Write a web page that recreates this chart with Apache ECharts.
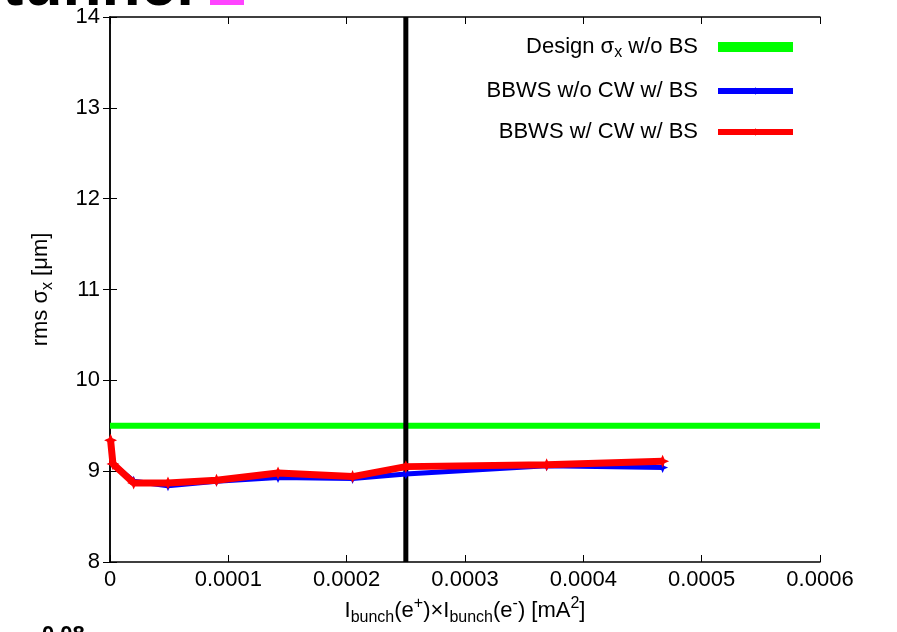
<!DOCTYPE html>
<html><head><meta charset="utf-8">
<script src="https://cdn.jsdelivr.net/npm/echarts@6/dist/echarts.min.js"></script>
<style>html,body{margin:0;padding:0;background:#fff}#c{width:897px;height:632px}</style>
</head><body><div id="c"></div>
<script>
const xTicks = [0, 0.0001, 0.0002, 0.0003, 0.0004, 0.0005, 0.0006];
const yTicks = [8, 9, 10, 11, 12, 13, 14];
const xProd = [0.0000005, 0.0000025, 0.00002, 0.000049, 0.00009, 0.000142, 0.000205, 0.00025, 0.000369, 0.000467];
const sigmaNoCW = [9.34, 9.08, 8.89, 8.84, 8.89, 8.93, 8.92, 8.97, 9.06, 9.04];
const sigmaCW   = [9.34, 9.08, 8.87, 8.87, 8.90, 8.98, 8.94, 9.05, 9.07, 9.11];
const designSigma = 9.5;
const designX = [0, 0.0006];
const markerX = 0.00025;
const markerY = [8, 14];
const names = ['Design σx w/o BS', 'BBWS w/o CW w/ BS', 'BBWS w/ CW w/ BS'];

const chart = echarts.init(document.getElementById('c'));
const font = 'Liberation Sans, Helvetica, Arial, sans-serif';
const pair = (xs, ys) => xs.map((x, i) => [x, ys[i]]);
const sym = 'path://M0,-1L0.3,-0.3L1,0L0.3,0.3L0,1L-0.3,0.3L-1,0L-0.3,-0.3Z';
chart.setOption({
  animation: false,
  backgroundColor: '#fff',
  grid: { left: 110, right: 77, top: 17, bottom: 70 },
  legend: {
    right: 96, top: 31, orient: 'vertical', align: 'right', itemGap: 19,
    itemWidth: 75, itemHeight: 10,
    data: [
      { name: names[0], icon: 'rect', itemStyle: { color: '#00ff00' } },
      { name: names[1] },
      { name: names[2] }
    ],
    lineStyle: { width: 6 },
    formatter: n => {
      if (n.indexOf('Design') === 0) return 'Design σ{sub|x} w/o BS';
      return n;
    },
    textStyle: { fontFamily: font, fontSize: 22, color: '#000', padding: [0, 15, 0, 0],
      rich: { sub: { fontFamily: font, fontSize: 16, verticalAlign: 'bottom', padding: [12, 0, 0, 0], color: '#000' } } }
  },
  xAxis: [{
    type: 'value', min: 0, max: 0.0006, interval: 0.0001,
    axisLine: { onZero: false, lineStyle: { color: '#000', width: 1.5 } },
    axisTick: { inside: true, length: 7, lineStyle: { color: '#000' } },
    splitLine: { show: false },
    axisLabel: { fontFamily: font, fontSize: 22, color: '#000', margin: 7,
      formatter: v => { const i = xTicks.findIndex(t => Math.abs(t - v) < 1e-9); return i >= 0 ? String(xTicks[i]) : ''; } },
    name: 'I{sub|bunch}(e{sup|+})×I{sub|bunch}(e{sup|-}) [mA{sup|2}]',
    nameLocation: 'middle', nameGap: 34,
    nameTextStyle: { fontFamily: font, fontSize: 22, color: '#000',
      rich: { sub: { fontSize: 16, verticalAlign: 'bottom', padding: [14, 0, 0, 0], fontFamily: font, color: '#000' },
              sup: { fontSize: 16, verticalAlign: 'top', padding: [0, 0, 12, 0], fontFamily: font, color: '#000' } } }
  }, {
    type: 'value', position: 'top', min: 0, max: 0.0006, interval: 0.0001,
    axisLine: { show: true, lineStyle: { color: '#000', width: 1.5 } },
    axisTick: { inside: true, length: 7, lineStyle: { color: '#000' } },
    axisLabel: { show: false }, splitLine: { show: false }
  }],
  yAxis: [{
    type: 'value', min: 8, max: 14, interval: 1,
    axisLine: { show: true, onZero: false, lineStyle: { color: '#000', width: 1.5 } },
    axisTick: { show: true, inside: true, length: 7, lineStyle: { color: '#000' } },
    splitLine: { show: false },
    axisLabel: { fontFamily: font, fontSize: 22, color: '#000', margin: 10 },
    name: 'rms σ{sub|x} [μm]', nameLocation: 'middle', nameGap: 54, nameRotate: 90,
    nameTextStyle: { fontFamily: font, fontSize: 22, color: '#000',
      rich: { sub: { fontSize: 16, verticalAlign: 'bottom', padding: [14, 0, 0, 0], fontFamily: font, color: '#000' } } }
  }, {
    type: 'value', position: 'right', min: 8, max: 14, interval: 1,
    axisLine: { show: true, lineStyle: { color: '#000', width: 1.5 } },
    axisTick: { show: true, inside: true, length: 7, lineStyle: { color: '#000' } },
    axisLabel: { show: false }, splitLine: { show: false }
  }],
  series: [
    { name: names[0], type: 'line', data: designX.map(x => [x, designSigma]), showSymbol: false, symbol: 'none',
      lineStyle: { color: '#00ff00', width: 6 }, itemStyle: { color: '#00ff00' }, z: 2 },
    { name: 'marker', type: 'line', data: markerY.map(y => [markerX, y]), showSymbol: false, symbol: 'none',
      lineStyle: { color: '#000', width: 5 }, z: 3 },
    { name: names[1], type: 'line', data: pair(xProd, sigmaNoCW), symbol: sym, symbolSize: 11,
      lineStyle: { color: '#0000ff', width: 5 }, itemStyle: { color: '#0000ff' }, z: 4 },
    { name: names[2], type: 'line', data: pair(xProd, sigmaCW), symbol: sym, symbolSize: 13,
      lineStyle: { color: '#ff0000', width: 7 }, itemStyle: { color: '#ff0000' }, z: 5 }
  ],
  graphic: [
    { type: 'text', x: -190, y: -45, style: { text: 'Beam tunnel', font: 'bold 64px ' + font, fill: '#000' } },
    { type: 'rect', shape: { x: 210, y: 0, width: 34, height: 5 }, style: { fill: '#ff44ff' } },
    { type: 'text', x: 42, y: 624, style: { text: '0.08', font: 'bold 22px ' + font, fill: '#000' } }
  ]
});
</script></body></html>
